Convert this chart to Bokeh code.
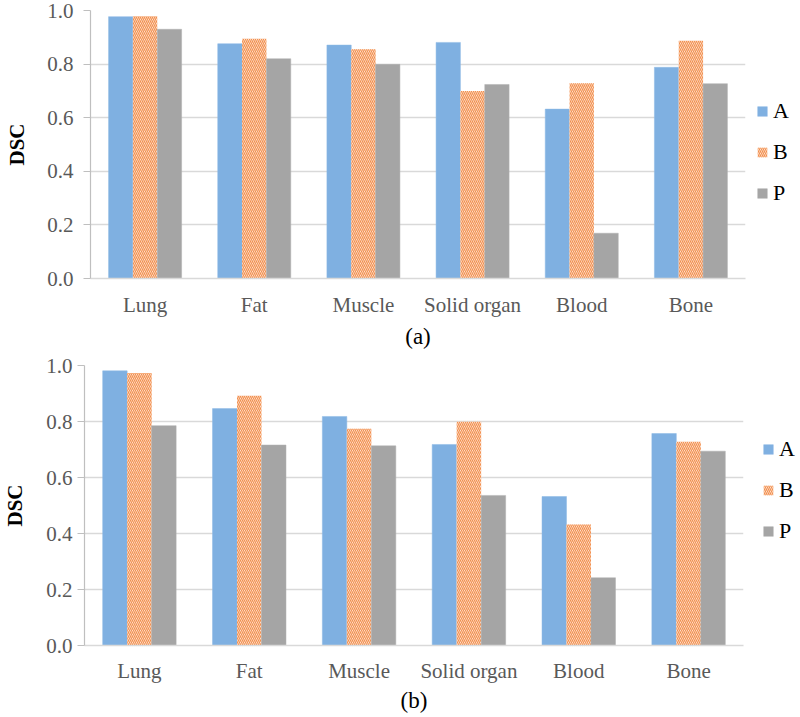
from bokeh.plotting import figure
from bokeh.models import (FactorRange, Range1d, Legend, LegendItem, FixedTicker,
                          ColumnDataSource, CustomJSTickFormatter)
from bokeh.transform import dodge
from bokeh.layouts import column, row
from bokeh.embed import file_html
from bokeh.resources import INLINE

categories = ["Lung", "Fat", "Muscle", "Solid organ", "Blood", "Bone"]
series = ["A", "B", "P"]

a_top = [0.977, 0.876, 0.871, 0.881, 0.632, 0.788]
b_top = [0.979, 0.895, 0.855, 0.700, 0.729, 0.887]
p_top = [0.930, 0.820, 0.799, 0.724, 0.169, 0.727]

a_bot = [0.981, 0.846, 0.818, 0.718, 0.532, 0.757]
b_bot = [0.973, 0.892, 0.774, 0.799, 0.432, 0.728]
p_bot = [0.785, 0.716, 0.713, 0.536, 0.242, 0.694]

y_ticks = [0.0, 0.2, 0.4, 0.6, 0.8, 1.0]

FONT = "Times New Roman"
BW = 0.223
TOTAL_W = 800

STYLE_A = dict(fill_color="#7fb0e1", line_color="#8cb8e5", line_width=0.5)
STYLE_B = dict(fill_color="#fff3eb", line_color=None, hatch_pattern="\\",
               hatch_color="#f2904f", hatch_scale=4, hatch_weight=1.25)
STYLE_P = dict(fill_color="#a5a5a5", line_color="#b0b0b0", line_width=0.5)


def make_panel(a, b, pvals, caption, height, main_width, border_left, border_top,
               ylabel_standoff, dsc_standoff, label_standoff, caption_standoff,
               legend_xy, legend_spacing):
    src = ColumnDataSource(dict(cat=categories, A=a, B=b, P=pvals))
    p = figure(x_range=FactorRange(*categories, range_padding=0),
               y_range=Range1d(0, 1.0), width=main_width, height=height,
               output_backend="svg", toolbar_location=None,
               min_border_left=border_left, min_border_right=2,
               min_border_top=border_top, min_border_bottom=10)
    p.outline_line_color = None

    p.vbar(x=dodge("cat", -BW, range=p.x_range), top="A", width=BW, source=src, **STYLE_A)
    p.vbar(x=dodge("cat", 0.0, range=p.x_range), top="B", width=BW, source=src, **STYLE_B)
    p.vbar(x=dodge("cat", BW, range=p.x_range), top="P", width=BW, source=src, **STYLE_P)

    p.xgrid.grid_line_color = None
    p.ygrid.grid_line_color = "#d9d9d9"
    p.ygrid.grid_line_width = 1.5
    p.yaxis.ticker = FixedTicker(ticks=y_ticks)
    p.yaxis.formatter = CustomJSTickFormatter(code="return tick.toFixed(1);")

    p.yaxis.axis_line_color = "#bfbfbf"
    p.yaxis.axis_line_width = 1.2
    p.yaxis.major_tick_line_color = "#bfbfbf"
    p.yaxis.major_tick_line_width = 1.2
    p.yaxis.major_tick_out = 7
    p.yaxis.major_tick_in = 0
    p.yaxis.minor_tick_line_color = None
    p.yaxis.minor_tick_out = 0
    p.yaxis.major_label_text_font = FONT
    p.yaxis.major_label_text_font_size = "21px"
    p.yaxis.major_label_text_color = "#595959"
    p.yaxis.major_label_standoff = ylabel_standoff
    p.yaxis.axis_label = "DSC"
    p.yaxis.axis_label_text_font = FONT
    p.yaxis.axis_label_text_font_style = "bold"
    p.yaxis.axis_label_text_font_size = "21px"
    p.yaxis.axis_label_text_color = "black"
    p.yaxis.axis_label_standoff = dsc_standoff

    p.xaxis.axis_line_color = "#d9d9d9"
    p.xaxis.axis_line_width = 1.5
    p.xaxis.major_tick_line_color = None
    p.xaxis.minor_tick_line_color = None
    p.xaxis.major_tick_out = 0
    p.xaxis.minor_tick_out = 0
    p.xaxis.major_label_text_font = FONT
    p.xaxis.major_label_text_font_size = "21px"
    p.xaxis.major_label_text_color = "#595959"
    p.xaxis.major_label_standoff = label_standoff
    p.xaxis.axis_label = caption
    p.xaxis.axis_label_text_font = FONT
    p.xaxis.axis_label_text_font_style = "normal"
    p.xaxis.axis_label_text_font_size = "23px"
    p.xaxis.axis_label_text_color = "black"
    p.xaxis.axis_label_standoff = caption_standoff

    # legend panel
    lw = TOTAL_W - main_width
    lg = figure(width=lw, height=height, x_range=Range1d(0, 1), y_range=Range1d(0, 1),
                output_backend="svg", toolbar_location=None,
                x_axis_location=None, y_axis_location=None,
                min_border_left=0, min_border_right=0, min_border_top=0,
                min_border_bottom=0)
    lg.outline_line_color = None
    lg.xgrid.visible = False
    lg.ygrid.visible = False
    hidden = ColumnDataSource(dict(x=[5.0], top=[0.5]))
    gA = lg.vbar(x="x", top="top", width=0.1, source=hidden, **STYLE_A)
    gB = lg.vbar(x="x", top="top", width=0.1, source=hidden, **STYLE_B)
    gP = lg.vbar(x="x", top="top", width=0.1, source=hidden, **STYLE_P)
    legend = Legend(items=[LegendItem(label=s, renderers=[g])
                           for s, g in zip(series, [gA, gB, gP])],
                    location=legend_xy, orientation="vertical",
                    margin=0, padding=0, spacing=legend_spacing,
                    glyph_width=12, glyph_height=12, label_standoff=5,
                    label_width=10,
                    label_text_font=FONT, label_text_font_size="22px",
                    label_text_color="black",
                    background_fill_alpha=0, border_line_alpha=0)
    lg.add_layout(legend, "center")
    return row(p, lg, spacing=0)


top = make_panel(a_top, b_top, p_top, "(a)", height=351, main_width=747,
                 border_left=90, border_top=10, ylabel_standoff=10, dsc_standoff=15,
                 label_standoff=14, caption_standoff=4,
                 legend_xy=(9, 72), legend_spacing=15)
bot = make_panel(a_bot, b_bot, p_bot, "(b)", height=364, main_width=745,
                 border_left=84, border_top=14, ylabel_standoff=5, dsc_standoff=16,
                 label_standoff=13, caption_standoff=2,
                 legend_xy=(17, 101), legend_spacing=15)

layout = column(top, bot, spacing=0)
open("out.html", "w").write(file_html(layout, INLINE))
